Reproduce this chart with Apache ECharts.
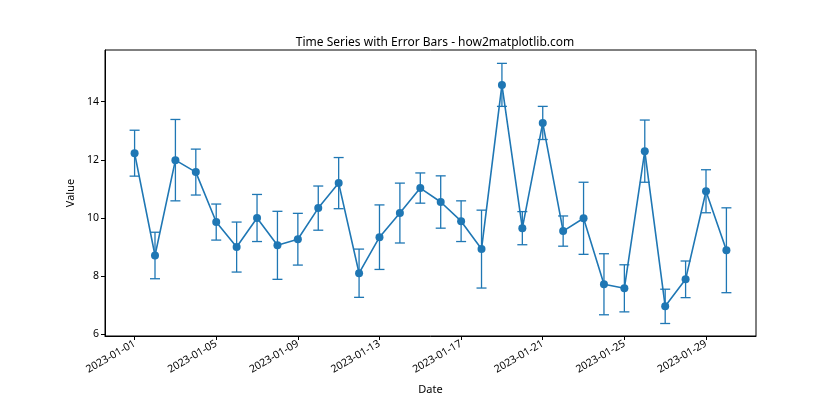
<!DOCTYPE html>
<html>
<head>
<meta charset="utf-8">
<script src="https://cdn.jsdelivr.net/npm/echarts@6/dist/echarts.min.js"></script>
<style>html,body{margin:0;padding:0;background:#fff}#c{width:840px;height:420px}</style>
</head>
<body>
<div id="c"></div>
<script>
var dates = ["2023-01-01","2023-01-02","2023-01-03","2023-01-04","2023-01-05","2023-01-06","2023-01-07","2023-01-08","2023-01-09","2023-01-10",
  "2023-01-11","2023-01-12","2023-01-13","2023-01-14","2023-01-15","2023-01-16","2023-01-17","2023-01-18","2023-01-19","2023-01-20",
  "2023-01-21","2023-01-22","2023-01-23","2023-01-24","2023-01-25","2023-01-26","2023-01-27","2023-01-28","2023-01-29","2023-01-30"];
var values = [12.23, 8.71, 11.99, 11.58, 9.86, 9.00, 10.00, 9.06, 9.27, 10.34,
  11.20, 8.10, 9.34, 10.17, 11.03, 10.55, 9.89, 8.93, 14.58, 9.65,
  13.27, 9.55, 9.99, 7.72, 7.58, 12.30, 6.96, 7.89, 10.92, 8.89];
var errors = [0.79, 0.80, 1.40, 0.79, 0.62, 0.86, 0.81, 1.17, 0.89, 0.76,
  0.88, 0.83, 1.11, 1.03, 0.52, 0.90, 0.70, 1.34, 0.74, 0.57,
  0.57, 0.52, 1.24, 1.05, 0.81, 1.07, 0.59, 0.63, 0.74, 1.46];
var xTickLabels = ["2023-01-01","2023-01-05","2023-01-09","2023-01-13","2023-01-17","2023-01-21","2023-01-25","2023-01-29"];
var yTicks = [6, 8, 10, 12, 14];

var color = '#1f77b4';
var font = 'Noto Sans';
var xTickIdx = xTickLabels.map(function(d){ return dates.indexOf(d); });
var lineData = values.map(function(v, i){ return [i, v]; });
var errData = values.map(function(v, i){ return [i, v - errors[i], v + errors[i]]; });

var chart = echarts.init(document.getElementById('c'), null, {renderer: 'canvas'});
chart.setOption({
  animation: false,
  backgroundColor: '#fff',
  title: {
    text: 'Time Series with Error Bars - how2matplotlib.com',
    left: 430, top: 32, textAlign: 'center',
    textStyle: {fontFamily: font, fontSize: 12, fontWeight: 'normal', color: '#000'}
  },
  grid: {left: 105, right: 84, top: 50, bottom: 84, show: true, borderColor: '#000', borderWidth: 1, backgroundColor: 'transparent'},
  xAxis: {
    type: 'value', min: -1.45, max: 30.45,
    name: 'Date', nameLocation: 'middle', nameGap: 48,
    nameTextStyle: {fontFamily: font, fontSize: 11, color: '#000'},
    axisLine: {show: true, onZero: false, lineStyle: {color: '#000'}},
    axisTick: {show: true, length: 4, customValues: xTickIdx, lineStyle: {color: '#000'}},
    axisLabel: {
      customValues: xTickIdx, rotate: 30, fontFamily: font, fontSize: 10.5, color: '#000', margin: 7,
      formatter: function(v){ return dates[Math.round(v)]; }
    },
    splitLine: {show: false}
  },
  yAxis: {
    type: 'value', min: 5.94, max: 15.78,
    name: 'Value', nameLocation: 'middle', nameGap: 29, nameRotate: 90,
    nameTextStyle: {fontFamily: font, fontSize: 11, color: '#000'},
    axisLine: {show: true, onZero: false, lineStyle: {color: '#000'}},
    axisTick: {show: true, length: 4, customValues: yTicks, lineStyle: {color: '#000'}},
    axisLabel: {customValues: yTicks, fontFamily: font, fontSize: 10.5, color: '#000', margin: 6},
    splitLine: {show: false}
  },
  series: [
    {
      type: 'custom',
      data: errData,
      encode: {x: 0, y: [1, 2]},
      z: 2,
      renderItem: function(params, api){
        var x = api.value(0), lo = api.value(1), hi = api.value(2);
        var pHi = api.coord([x, hi]), pLo = api.coord([x, lo]);
        var hw = 5;
        var st = {stroke: color, lineWidth: 1.3, fill: null};
        return {type: 'group', children: [
          {type: 'line', shape: {x1: pHi[0], y1: pHi[1], x2: pLo[0], y2: pLo[1]}, style: st},
          {type: 'line', shape: {x1: pHi[0]-hw, y1: pHi[1], x2: pHi[0]+hw, y2: pHi[1]}, style: st},
          {type: 'line', shape: {x1: pLo[0]-hw, y1: pLo[1], x2: pLo[0]+hw, y2: pLo[1]}, style: st}
        ]};
      }
    },
    {
      type: 'line',
      data: lineData,
      z: 3,
      symbol: 'circle', symbolSize: 8,
      lineStyle: {color: color, width: 1.6},
      itemStyle: {color: color, borderWidth: 0}
    }
  ]
});
</script>
</body>
</html>
